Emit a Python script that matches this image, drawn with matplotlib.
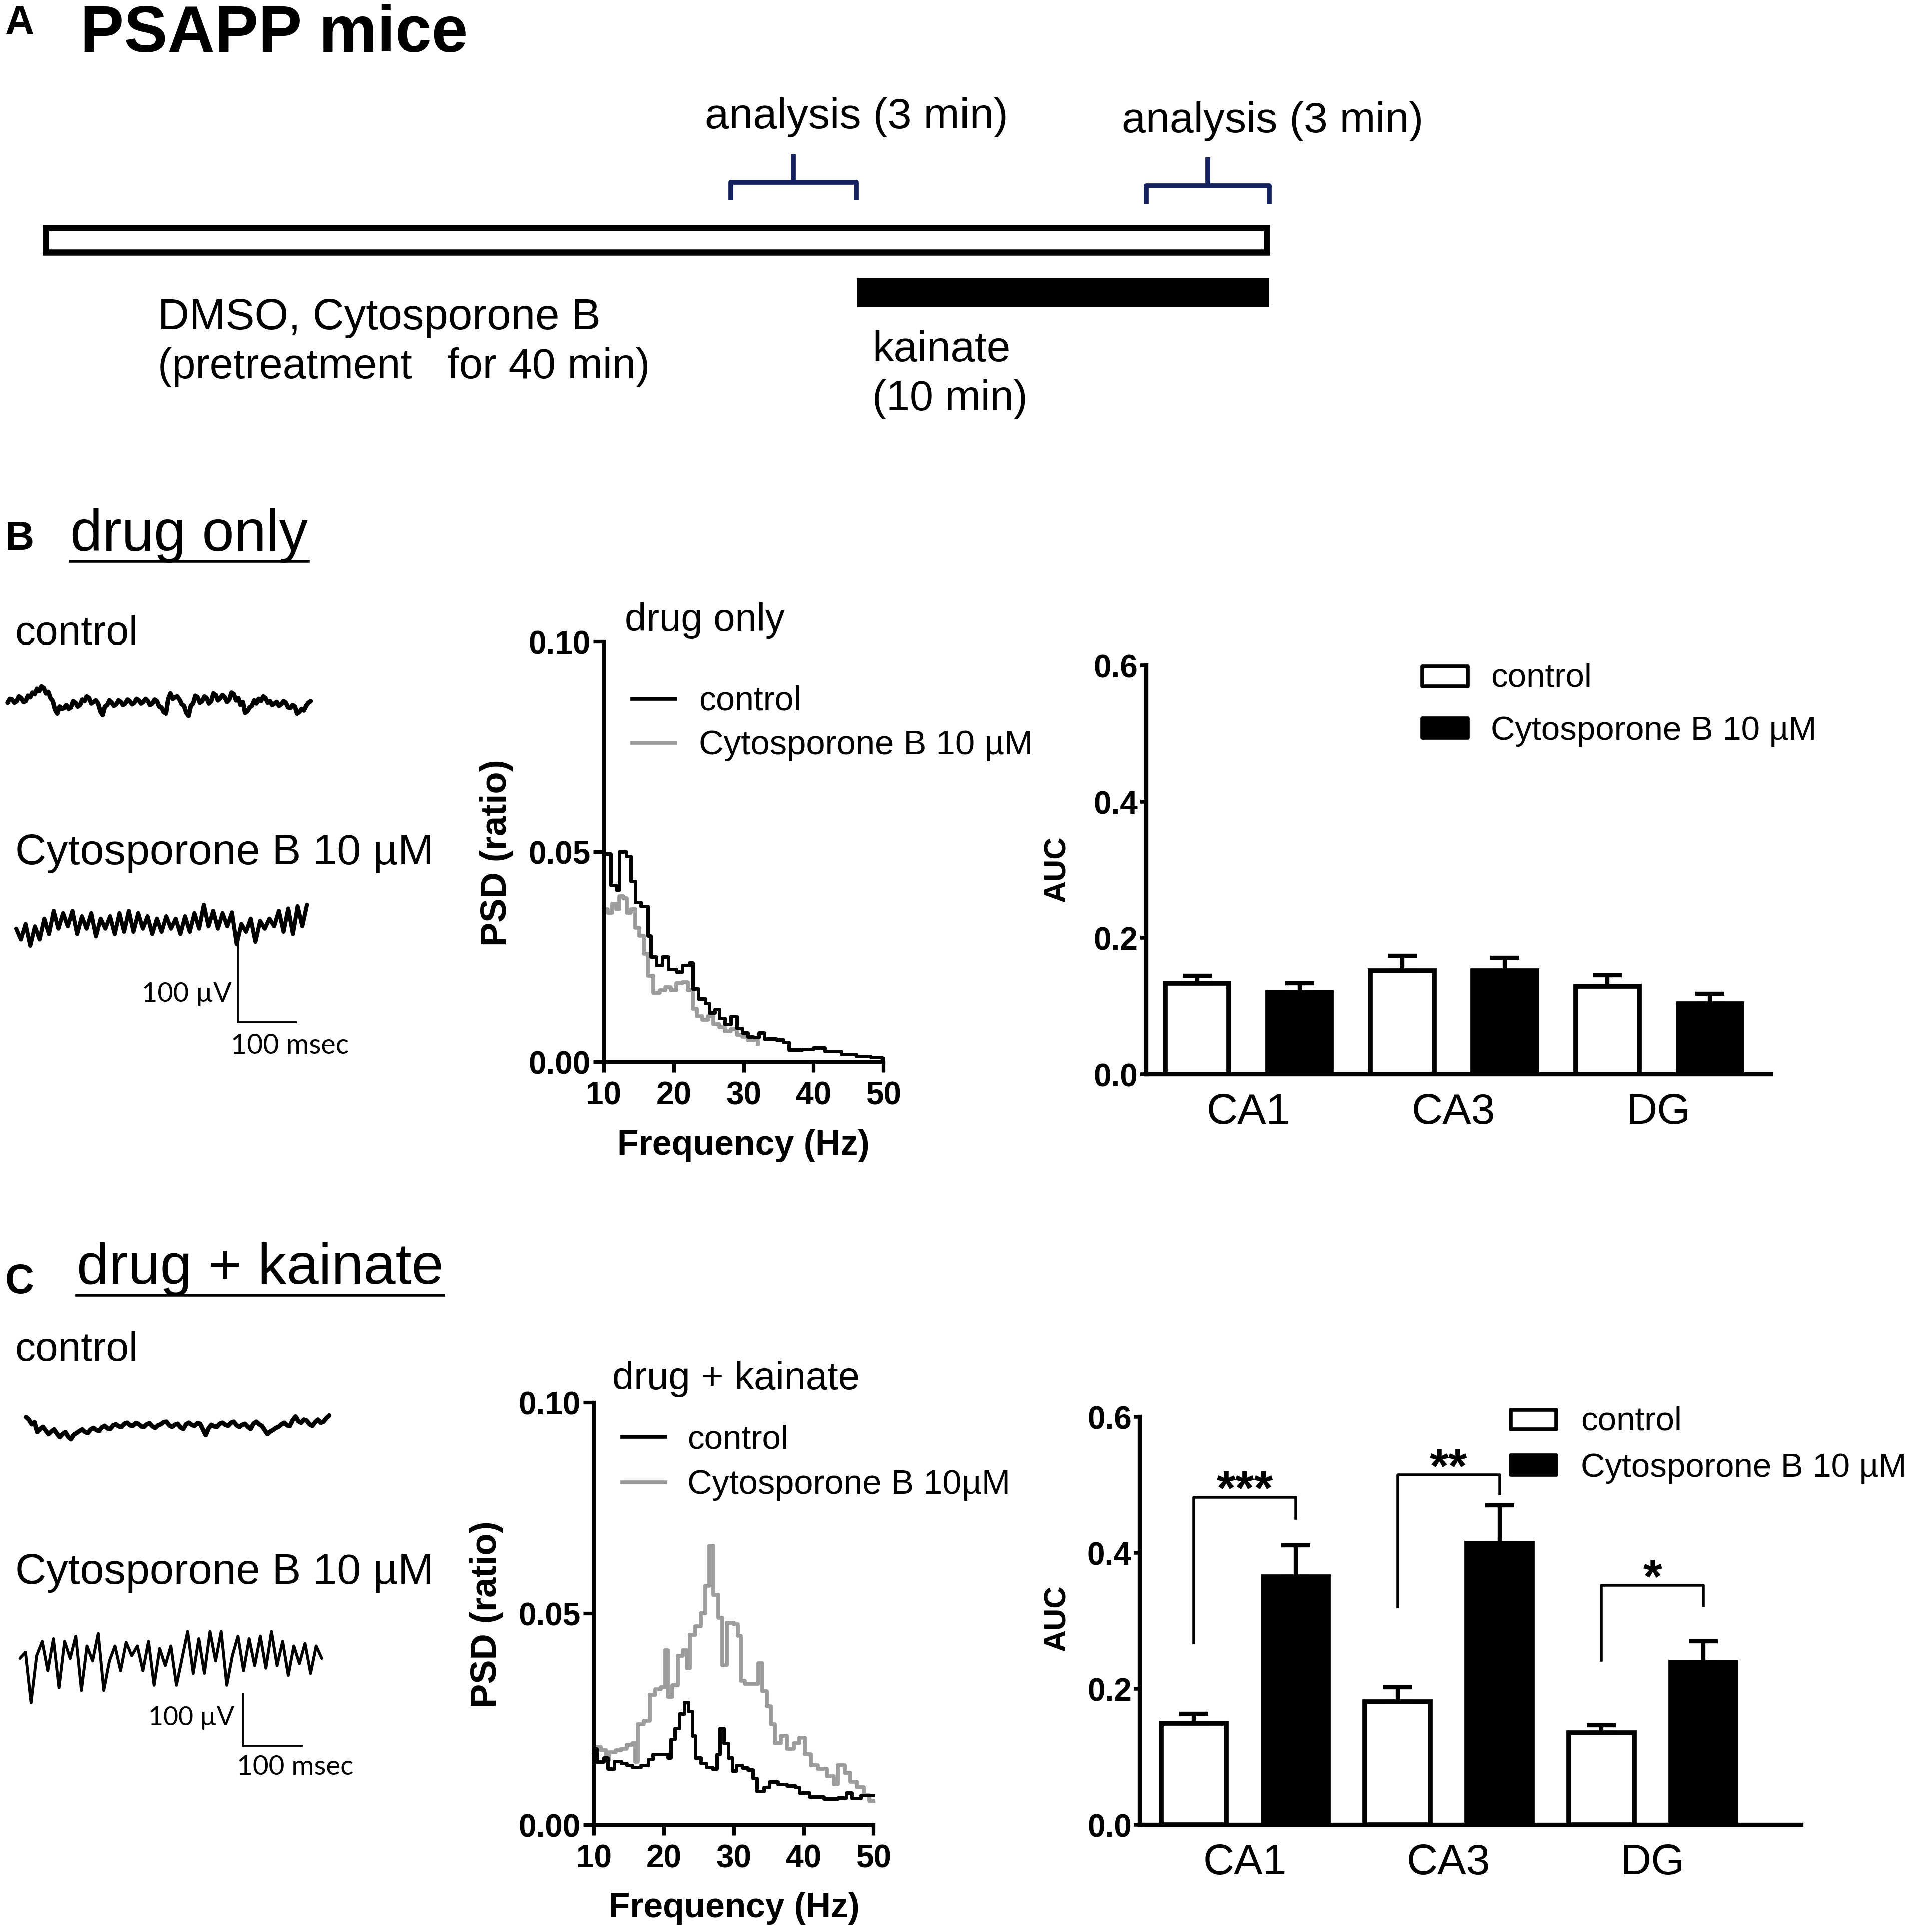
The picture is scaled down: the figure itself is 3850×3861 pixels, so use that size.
import numpy as np
import matplotlib
matplotlib.use('Agg')
import matplotlib.pyplot as plt
from matplotlib import font_manager
from matplotlib.patches import Rectangle

# ------------------------------------------------------------------ data
regions = ['CA1', 'CA3', 'DG']

auc_drug_control = [0.133, 0.152, 0.129]
auc_drug_control_sem = [0.011, 0.022, 0.016]
auc_drug_cyto = [0.120, 0.152, 0.103]
auc_drug_cyto_sem = [0.013, 0.019, 0.015]

auc_kai_control = [0.149, 0.181, 0.135]
auc_kai_control_sem = [0.014, 0.021, 0.011]
auc_kai_cyto = [0.365, 0.414, 0.239]
auc_kai_cyto_sem = [0.046, 0.056, 0.031]

sig_labels = ['***', '**', '*']
sig_top = [0.482, 0.515, 0.352]
sig_left_base = [0.268, 0.321, 0.242]
sig_right_base = [0.451, 0.487, 0.322]

auc_yticks = [0.0, 0.2, 0.4, 0.6]
auc_yticklabels = ['0.0', '0.2', '0.4', '0.6']

psd_xticks = [10, 20, 30, 40, 50]
psd_yticks = [0.0, 0.05, 0.10]
psd_yticklabels = ['0.00', '0.05', '0.10']

# PSD, drug only
psd_drug_ctrl_f = [10.0, 11.0, 11.8, 12.2, 13.2, 13.9, 14.5, 15.3, 16.3, 16.7,
                   17.5, 18.4, 19.2, 20.4, 21.2, 22.2, 22.7, 23.5, 24.5, 25.1,
                   25.9, 26.5, 27.3, 28.2, 29.0, 29.8, 30.6, 31.4, 32.2, 33.0,
                   34.7, 35.7, 36.5, 38.4, 40.0, 41.6, 44.0, 46.1, 48.2, 49.8]
psd_drug_ctrl = [0.0495, 0.042, 0.041, 0.050, 0.049, 0.043, 0.038, 0.037, 0.030, 0.025,
                 0.023, 0.025, 0.022, 0.0215, 0.023, 0.0236, 0.0174, 0.015, 0.014, 0.0117,
                 0.0125, 0.0104, 0.009, 0.0108, 0.008, 0.0069, 0.006, 0.0058, 0.0069, 0.0055,
                 0.0053, 0.0047, 0.0029, 0.003, 0.0033, 0.0025, 0.0018, 0.0013, 0.0011, 0.0009]
psd_drug_cyto_f = [10.0, 10.6, 11.2, 11.8, 12.2, 12.8, 13.3, 13.9, 14.5, 15.1,
                   15.7, 16.3, 17.1, 18.0, 18.8, 19.6, 20.4, 21.2, 22.0, 22.7,
                   23.3, 24.1, 24.9, 25.7, 26.5, 27.3, 28.2, 29.0, 29.8, 30.6, 32.0]
psd_drug_cyto = [0.0363, 0.0355, 0.0376, 0.0363, 0.0394, 0.039, 0.0355, 0.0363, 0.0319, 0.030,
                 0.0257, 0.0205, 0.0165, 0.0170, 0.0178, 0.0170, 0.0187, 0.019, 0.017, 0.0126,
                 0.0108, 0.0100, 0.0108, 0.009, 0.0082, 0.0073, 0.0077, 0.0064, 0.006, 0.0051, 0.0042]

# PSD, drug + kainate
psd_kai_ctrl_f = [10.0, 10.4, 11.4, 12.0, 12.9, 13.9, 14.7, 15.5, 16.7, 17.8,
                  18.4, 19.6, 20.6, 21.0, 21.6, 22.2, 22.9, 23.5, 24.1, 24.5,
                  25.3, 26.1, 26.9, 27.6, 28.0, 28.6, 29.2, 29.8, 30.4, 31.2,
                  32.0, 32.7, 33.3, 34.3, 35.1, 36.3, 37.6, 38.8, 39.4, 40.8,
                  42.9, 44.9, 46.1, 46.9, 48.2]
psd_kai_ctrl = [0.018, 0.0149, 0.0158, 0.0132, 0.0150, 0.0145, 0.0140, 0.0136, 0.0140, 0.0155,
                0.0167, 0.0167, 0.0158, 0.0202, 0.0228, 0.0263, 0.029, 0.0268, 0.021, 0.0158,
                0.0145, 0.0136, 0.0132, 0.0167, 0.0228, 0.0193, 0.0158, 0.0127, 0.014, 0.0135,
                0.0130, 0.011, 0.0079, 0.0088, 0.0101, 0.0096, 0.0092, 0.0088, 0.0075, 0.0066,
                0.0061, 0.0063, 0.0075, 0.0062, 0.007]
psd_kai_cyto_f = [10.0, 10.4, 11.0, 11.8, 12.2, 13.1, 13.9, 14.7, 15.5, 15.9,
                  16.3, 17.1, 18.0, 18.8, 19.6, 20.2, 20.6, 21.2, 22.0, 22.7,
                  23.3, 23.7, 24.5, 25.3, 25.9, 26.5, 27.1, 27.8, 28.4, 29.0,
                  30.0, 30.6, 31.0, 31.6, 32.7, 33.5, 34.1, 34.7, 35.3, 35.9,
                  36.7, 37.6, 38.6, 39.4, 40.2, 41.0, 42.0, 43.3, 44.3, 44.9,
                  45.9, 46.7, 47.6, 48.6, 49.4]
psd_kai_cyto = [0.0171, 0.0184, 0.0176, 0.0154, 0.0171, 0.0176, 0.018, 0.0189, 0.0193, 0.0149,
                0.0237, 0.0246, 0.0307, 0.032, 0.0325, 0.0413, 0.0303, 0.033, 0.040, 0.0413,
                0.037, 0.045, 0.047, 0.050, 0.0566, 0.066, 0.0544, 0.049, 0.0377, 0.0478,
                0.0474, 0.0447, 0.034, 0.0333, 0.0333, 0.0382, 0.0316, 0.028, 0.0237, 0.0193,
                0.021, 0.018, 0.0193, 0.0206, 0.0167, 0.014, 0.0132, 0.0114, 0.0096, 0.014,
                0.0123, 0.0101, 0.0088, 0.007, 0.0057]

# Example EEG traces (microvolts)
trace_drug_control = [1, 6, 5, 1, 3, 9, 7, 2, 3, 10, 8, 14, 12, 19, 16, 22, 20, 13, 15, 7,
                      3, -8, -13, -4, -7, -6, -2, -7, -5, 3, 1, -4, -2, 5, 3, 9, 7, 0, 2, 4,
                      0, -10, -15, -4, -2, 4, 1, -3, -1, 4, 2, -2, 0, 5, 3, -1, 1, 6, 4, 0,
                      2, 6, 3, -2, 0, 5, 3, -4, -5, -11, -13, 6, 13, 6, 8, 9, 5, -1, -3, -12,
                      -16, -3, 0, 10, 8, 1, 3, 9, 7, 0, 3, 13, 11, 4, 7, 11, 8, 2, 5, 14,
                      12, 4, 7, -2, 2, -12, -10, -5, -3, 4, 0, 6, 3, 9, 7, 1, 3, -2, 0, 2,
                      -3, -1, 3, 1, -5, -6, -2, -4, -13, -11, -7, -9, -3, 1, 3]
trace_drug_cyto = [-3, -17, 3, -25, 0, -17, 10, -10, 20, -3, 17, 0, 20, -10, 13, -3, 17, -13,
                   10, -3, 13, -10, 17, -7, 20, -7, 17, -3, 13, -10, 10, -7, 13, -3, 10, -10,
                   13, -7, 17, -3, 28, 0, 20, -3, 17, 0, 18, -23, 3, -7, 10, -20, 7, -3, 10,
                   0, 20, -7, 23, -10, 26, 0, 28]
trace_kai_control = [19, 14, 5, 9, -10, -4, 0, -7, -14, -9, -5, -13, -20, -14, -10, -19, -24,
                     -15, -12, -8, -5, -10, -12, -5, -2, -6, -8, -1, 2, -3, -4, 3, 5, 1, 0, 6,
                     8, 3, 2, 7, 6, 1, 0, 5, 7, 1, -2, 3, 5, 9, 10, 3, 0, 4, 6, -1, -4, 5, 8,
                     4, 2, 7, 6, -5, -16, -3, 4, 1, 0, 6, 8, 4, 2, 8, 10, 3, 0, 4, 6, 0, -4,
                     6, 10, 5, 2, -6, -14, -9, -6, -2, 0, 5, 8, 3, 2, 13, 20, 11, 8, 14, 12,
                     5, 2, 9, 14, 8, 10, 17, 22]
trace_kai_cyto = [0, 12, -86, 5, 33, -24, 38, -57, 33, 0, 43, -62, 24, -5, 48, -62, -5, 24,
                  -24, 31, 5, 24, -24, 33, -52, 19, -14, 24, -52, 0, 52, -29, 38, -29, 52,
                  -5, 52, -52, 5, 43, -24, 38, -14, 43, -19, 52, -14, 33, -33, 24, -10, 29,
                  -29, 24, 0]

# ------------------------------------------------------------------ setup
names = {f.name for f in font_manager.fontManager.ttflist}
SANS = 'Liberation Sans' if 'Liberation Sans' in names else 'DejaVu Sans'
CALI = 'Lato' if 'Lato' in names else SANS
plt.rcParams['font.family'] = [SANS, 'DejaVu Sans']

W, H = 1563.0, 1568.0          # layout units (reference preview pixels)
FIG_W, FIG_H = 3850, 3862
fig = plt.figure(figsize=(FIG_W / 100, FIG_H / 100), dpi=100)
fig.patch.set_facecolor('white')

canvas = fig.add_axes([0, 0, 1, 1])
canvas.set_xlim(0, W)
canvas.set_ylim(H, 0)
canvas.axis('off')

renderer = fig.canvas.get_renderer()
NAVY = '#14215e'
GRAY = '#9c9c9c'


def rect(x0, x1, y0, y1):
    return [x0 / W, 1 - y1 / H, (x1 - x0) / W, (y1 - y0) / H]


def fit_text(x0, x1, yb, s, family=None, weight='normal', color='black'):
    fam = [family or SANS, 'DejaVu Sans']
    t = canvas.text(x0, yb, s, fontsize=50, family=fam, weight=weight,
                    color=color, ha='left', va='baseline')
    w = t.get_window_extent(renderer).width
    target = (x1 - x0) / W * FIG_W
    t.set_fontsize(50 * target / w)
    return t


# ------------------------------------------------------------------ panel A
canvas.text(4, 27, 'A', fontsize=58, weight='bold', ha='left', va='baseline')
fit_text(65, 380, 42, 'PSAPP mice', weight='bold')
fit_text(572, 818, 104, 'analysis (3 min)')
fit_text(910, 1155, 107, 'analysis (3 min)')
fit_text(128, 488, 267, 'DMSO, Cytosporone B')
fit_text(128, 528, 307, '(pretreatment   for 40 min)')
fit_text(708, 820, 293, 'kainate')
fit_text(708, 834, 333, '(10 min)')

canvas.add_patch(Rectangle((37, 185), 991, 20, fill=False, ec='black', lw=9))
canvas.add_patch(Rectangle((696, 226), 333, 23, fc='black', ec='black', lw=2,
                           joinstyle='round'))
for (bx0, bx1, by, bbot, btop) in [(593, 695, 148, 163, 125), (930, 1030, 151, 166, 128)]:
    canvas.plot([bx0, bx0, bx1, bx1], [bbot, by, by, bbot], color=NAVY, lw=7,
                solid_joinstyle='round', solid_capstyle='butt')
    canvas.plot([(bx0 + bx1) / 2] * 2, [by, btop], color=NAVY, lw=7, solid_capstyle='butt')

# ------------------------------------------------------------------ headers / left texts
canvas.text(4, 446, 'B', fontsize=58, weight='bold', ha='left', va='baseline')
fit_text(57, 250, 447, 'drug only')
canvas.plot([57, 250], [456, 456], color='black', lw=4)
fit_text(12, 112, 523, 'control')
fit_text(12, 352, 701, 'Cytosporone B 10 \u00b5M')
fit_text(115, 188, 813, '100 \u00b5V', family=CALI)
fit_text(187, 283, 855, '100 msec', family=CALI)

canvas.text(4, 1049, 'C', fontsize=58, weight='bold', ha='left', va='baseline')
fit_text(62, 360, 1042, 'drug + kainate')
canvas.plot([62, 360], [1051, 1051], color='black', lw=4)
fit_text(12, 112, 1104, 'control')
fit_text(12, 352, 1285, 'Cytosporone B 10 \u00b5M')
fit_text(120, 190, 1400, '100 \u00b5V', family=CALI)
fit_text(192, 287, 1440, '100 msec', family=CALI)


# ------------------------------------------------------------------ traces
def trace_panel(box, px_per_100ms, px_per_100uv, traces, bar_xy, lws):
    x0, x1, y0, y1 = box
    ax = fig.add_axes(rect(*box))
    ax.axis('off')
    ms = 100.0 / px_per_100ms
    uv = 100.0 / px_per_100uv
    ax.set_xlim(0, (x1 - x0) * ms)
    ax.set_ylim(0, (y1 - y0) * uv)
    for (vals, xs0, xs1, yc), lw in zip(traces, lws):
        t = np.linspace((xs0 - x0) * ms, (xs1 - x0) * ms, len(vals))
        ax.plot(t, (y1 - yc) * uv + np.asarray(vals, float), color='black', lw=lw,
                solid_joinstyle='round', solid_capstyle='round')
    bx, by = (bar_xy[0] - x0) * ms, (y1 - bar_xy[1]) * uv
    ax.plot([bx, bx, bx + 100], [by + 100, by, by], color='black', lw=2.8,
            solid_joinstyle='miter')
    return ax


trace_panel((0, 300, 540, 880), 47, 63,
            [(trace_drug_control, 6, 252, 571), (trace_drug_cyto, 13, 249, 752)],
            (193, 830), [6.5, 5.8])
trace_panel((0, 300, 1120, 1460), 48, 42,
            [(trace_kai_control, 21, 267, 1158), (trace_kai_cyto, 16, 261, 1346)],
            (197, 1417), [6.5, 4.2])


# ------------------------------------------------------------------ PSD panels
def psd_panel(box, fk, vk, fc, vc, extend_cyto):
    ax = fig.add_axes(rect(*box))
    ax.patch.set_alpha(0)
    fc2 = list(fc) + ([50.0] if extend_cyto else [])
    vc2 = list(vc) + ([vc[-1]] if extend_cyto else [])
    ax.step(fc2, vc2, where='post', color=GRAY, lw=5.6, clip_on=False)
    ax.step(list(fk) + [50.0], list(vk) + [vk[-1]], where='post', color='black',
            lw=5.0, clip_on=False)
    ax.set_xlim(10, 50)
    ax.set_ylim(0, 0.10)
    ax.set_xticks(psd_xticks)
    ax.set_yticks(psd_yticks)
    ax.set_yticklabels(psd_yticklabels)
    for sp in ('top', 'right'):
        ax.spines[sp].set_visible(False)
    for sp in ('left', 'bottom'):
        ax.spines[sp].set_linewidth(5.2)
    ax.tick_params(direction='out', length=15, width=5.2, labelsize=46)
    ax.tick_params(axis='y', pad=4)
    ax.tick_params(axis='x', pad=12)
    for lab in ax.get_xticklabels() + ax.get_yticklabels():
        lab.set_fontweight('bold')
    return ax


psd_panel((490, 717, 521, 862), psd_drug_ctrl_f, psd_drug_ctrl,
          psd_drug_cyto_f, psd_drug_cyto, False)
psd_panel((482, 709, 1138, 1481), psd_kai_ctrl_f, psd_kai_ctrl,
          psd_kai_cyto_f, psd_kai_cyto, True)

fit_text(501, 706, 937, 'Frequency (Hz)', weight='bold')
fit_text(494, 698, 1556, 'Frequency (Hz)', weight='bold')
canvas.text(403, 692, 'PSD (ratio)', rotation=90, ha='center', va='center',
            fontsize=52, weight='bold')
canvas.text(395, 1310, 'PSD (ratio)', rotation=90, ha='center', va='center',
            fontsize=52, weight='bold')

fit_text(507, 637, 512, 'drug only')
canvas.plot([513, 548], [567, 567], color='black', lw=5.5)
canvas.plot([513, 548], [603, 603], color=GRAY, lw=5.5)
fit_text(567, 650, 576, 'control')
fit_text(567, 838, 612, 'Cytosporone B 10 \u00b5M')

fit_text(497, 698, 1127, 'drug + kainate')
canvas.plot([505, 540], [1166, 1166], color='black', lw=5.5)
canvas.plot([505, 540], [1203, 1203], color=GRAY, lw=5.5)
fit_text(558, 640, 1175, 'control')
fit_text(558, 820, 1212, 'Cytosporone B 10\u00b5M')


# ------------------------------------------------------------------ AUC bar panels
def bar_panel(box, xlim, width, ctrl, ctrl_e, cyto, cyto_e):
    ax = fig.add_axes(rect(*box))
    ax.patch.set_alpha(0)
    x = np.arange(len(regions))
    ax.bar(x - 0.25, ctrl, width, color='white', edgecolor='black', linewidth=7, zorder=3)
    ax.bar(x + 0.25, cyto, width, color='black', edgecolor='black', linewidth=7, zorder=3)
    z = np.zeros(len(regions))
    ax.errorbar(x - 0.25, ctrl, yerr=[z, ctrl_e], fmt='none', ecolor='black',
                elinewidth=6, capsize=21, capthick=6, zorder=4)
    ax.errorbar(x + 0.25, cyto, yerr=[z, cyto_e], fmt='none', ecolor='black',
                elinewidth=6, capsize=21, capthick=6, zorder=4)
    ax.set_xlim(*xlim)
    ax.set_ylim(0, 0.6)
    ax.set_yticks(auc_yticks)
    ax.set_yticklabels(auc_yticklabels)
    ax.set_xticks(x)
    ax.set_xticklabels(regions)
    for sp in ('top', 'right'):
        ax.spines[sp].set_visible(False)
    for sp in ('left', 'bottom'):
        ax.spines[sp].set_linewidth(6)
    ax.tick_params(axis='y', direction='out', length=9, width=5.5, labelsize=46, pad=3)
    ax.tick_params(axis='x', length=0, labelsize=62, pad=26)
    for lab in ax.get_yticklabels():
        lab.set_fontweight('bold')
    return ax


bar_panel((930, 1437, 540, 872), (-0.4985, 2.546), 0.31,
          auc_drug_control, auc_drug_control_sem, auc_drug_cyto, auc_drug_cyto_sem)
axc = bar_panel((925, 1462, 1150, 1481), (-0.514, 2.731), 0.32,
                auc_kai_control, auc_kai_control_sem, auc_kai_cyto, auc_kai_cyto_sem)
for i, lab in enumerate(sig_labels):
    axc.plot([i - 0.25, i - 0.25, i + 0.25, i + 0.25],
             [sig_left_base[i], sig_top[i], sig_top[i], sig_right_base[i]],
             color='black', lw=4, clip_on=False, zorder=5)
    axc.text(i, sig_top[i] - 0.010, lab, ha='center', va='baseline', fontsize=70,
             weight='bold', color='black', zorder=5)

canvas.text(858, 705, 'AUC', rotation=90, ha='center', va='center', fontsize=44, weight='bold')
canvas.text(858, 1313, 'AUC', rotation=90, ha='center', va='center', fontsize=44, weight='bold')

# bar legends
for (lx, ly1, ly2, tx, tx1a, tx1b, by1, by2) in [
        (1153, 540, 582, 1210, 1292, 1475, 557, 600),
        (1225, 1143, 1180, 1283, 1365, 1548, 1160, 1198)]:
    canvas.add_patch(Rectangle((lx + 1, ly1 + 1), 37, 16, fc='white', ec='black', lw=5.5,
                               joinstyle='round'))
    canvas.add_patch(Rectangle((lx + 1, ly2 + 1), 37, 16, fc='black', ec='black', lw=5.5,
                               joinstyle='round'))
    fit_text(tx, tx1a, by1, 'control')
    fit_text(tx, tx1b, by2, 'Cytosporone B 10 \u00b5M')

fig.savefig('out.png', dpi=100, facecolor='white')
